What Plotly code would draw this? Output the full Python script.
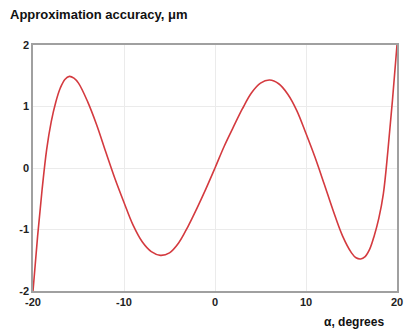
import plotly.graph_objects as go

alpha = [-20, -19.5, -19, -18.5, -18, -17.5, -17, -16.5, -16, -15.5, -15, -14, -13, -12, -11, -10, -9, -8, -7, -6, -5, -4, -3, -2, -1, 0,
         1, 2, 3, 4, 5, 6, 7, 8, 9, 10, 11, 12, 13, 14, 15, 15.5, 16, 16.5, 17, 17.5, 18, 18.5, 19, 19.5, 20]
accuracy = [-2.0, -1.12, -0.35, 0.3, 0.75, 1.07, 1.3, 1.44, 1.49, 1.46, 1.38, 1.08, 0.7, 0.26, -0.17, -0.56, -0.93, -1.2, -1.36, -1.42, -1.38, -1.22, -0.96, -0.66, -0.34, 0.0,
            0.35, 0.66, 0.96, 1.22, 1.38, 1.43, 1.37, 1.2, 0.93, 0.56, 0.17, -0.26, -0.7, -1.1, -1.38, -1.46, -1.48, -1.44, -1.32, -1.1, -0.82, -0.42, 0.28, 1.1, 2.0]

x_ticks = [-20, -10, 0, 10, 20]
y_ticks = [-2, -1, 0, 1, 2]

FONT = "Liberation Sans, Arial, sans-serif"

fig = go.Figure()
fig.add_trace(go.Scatter(x=alpha, y=accuracy, mode="lines",
                         line=dict(color="#d43a3f", width=1.6, shape="spline", smoothing=1.0),
                         hoverinfo="skip", showlegend=False))

axis_font = dict(family=FONT, size=11, color="#222222")
common = dict(showgrid=True, gridcolor="#ebebeb", gridwidth=1, zeroline=False,
              showline=True, linecolor="#a0a0a0", linewidth=1.5, mirror=True,
              ticks="", tickfont=axis_font, ticklabeloverflow="allow")
fig.update_layout(
    width=406, height=329,
    margin=dict(l=33, r=3, t=45, b=38),
    paper_bgcolor="white", plot_bgcolor="white",
    xaxis=dict(range=[-20, 20], tickvals=x_ticks,
               ticktext=["<b>%s</b>" % v for v in x_ticks], **common),
    yaxis=dict(range=[-2, 2], tickvals=y_ticks,
               ticktext=["<b>%s</b>" % v for v in y_ticks], **common),
    annotations=[
        dict(text="<b>Approximation accuracy, μm</b>", xref="paper", yref="paper",
             x=-0.068, y=1.122, xanchor="left", yanchor="middle", showarrow=False,
             font=dict(family=FONT, size=13, color="#111111")),
        dict(text="<b>α, degrees</b>", xref="paper", yref="paper",
             x=0.97, y=-0.126, xanchor="right", yanchor="middle", showarrow=False,
             font=dict(family=FONT, size=12, color="#111111")),
    ],
)
fig.write_html("out.html")
